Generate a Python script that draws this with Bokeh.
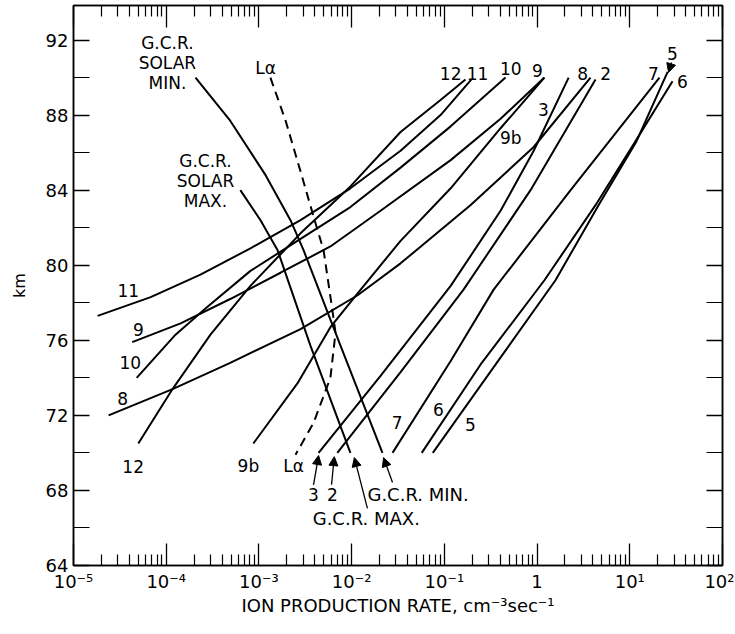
import numpy as np
from bokeh.plotting import figure
from bokeh.models import (Range1d, LogAxis, LinearAxis, FixedTicker, Arrow, NormalHead,
                          ColumnDataSource, CustomJSTickFormatter)
from bokeh.core.properties import value
from bokeh.embed import file_html
from bokeh.resources import INLINE

FONT = "DejaVu Sans"

# ---------------- data (ion production rate cm^-3 s^-1, altitude km) ----------------
c12_x = [5.0e-5, 1.17e-4, 3.0e-4, 8.1e-4, 2.81e-3, 9.7e-3, 3.37e-2, 9.1e-2, 0.169]
c12_y = [70.5, 73.4, 76.3, 78.9, 81.7, 84.2, 87.1, 88.8, 89.9]

c11_x = [1.82e-5, 6.8e-5, 2.34e-4, 8.1e-4, 2.81e-3, 9.7e-3, 3.37e-2, 9.1e-2, 0.196]
c11_y = [77.3, 78.3, 79.5, 80.9, 82.4, 84.1, 86.1, 88.0, 89.9]

c10_x = [4.8e-5, 1.26e-4, 2.65e-4, 8.1e-4, 2.81e-3, 9.7e-3, 3.37e-2, 0.117, 0.457]
c10_y = [74.0, 76.3, 77.7, 79.7, 81.4, 83.1, 85.2, 87.4, 90.0]

c9_x = [4.3e-5, 1.43e-4, 4.9e-4, 1.71e-3, 5.9e-3, 2.05e-2, 0.117, 0.404, 1.20]
c9_y = [75.9, 76.9, 78.2, 79.6, 81.0, 82.9, 85.6, 87.8, 90.0]

c9b_x = [8.7e-4, 2.6e-3, 5.9e-3, 1.16e-2, 3.37e-2, 0.117, 0.404, 1.20]
c9b_y = [70.5, 73.7, 76.7, 78.5, 81.3, 84.1, 87.3, 90.0]

c8_x = [2.39e-5, 1.17e-4, 4.9e-4, 2.81e-3, 1.16e-2, 3.37e-2, 0.191, 0.92, 3.77]
c8_y = [72.0, 73.4, 74.8, 76.6, 78.4, 80.1, 83.2, 86.3, 90.0]

c3_x = [4.4e-3, 2.05e-2, 0.117, 0.404, 0.92, 2.19]
c3_y = [70.0, 74.1, 78.9, 82.9, 86.1, 90.0]

c2_x = [7.0e-3, 3.37e-2, 0.161, 0.85, 4.27]
c2_y = [70.0, 74.3, 78.7, 84.0, 89.9]

c7_x = [2.76e-2, 0.117, 0.340, 2.30, 20.9]
c7_y = [70.0, 74.9, 78.7, 84.0, 90.0]

c6_x = [5.7e-2, 0.245, 1.20, 4.27, 11.5, 28.9]
c6_y = [70.0, 74.7, 79.2, 83.2, 86.6, 89.8]

c5_x = [7.5e-2, 0.356, 1.58, 4.6, 11.8, 25.6]
c5_y = [70.0, 74.7, 79.2, 83.2, 86.6, 90.3]

gcr_min_x = [2.07e-4, 4.9e-4, 1.18e-3, 2.19e-3, 3.03e-3, 7.6e-3, 2.15e-2]
gcr_min_y = [90.0, 87.7, 84.8, 82.4, 80.8, 75.7, 70.0]

gcr_max_x = [6.3e-4, 1.04e-3, 1.59e-3, 3.6e-3, 9.7e-3]
gcr_max_y = [84.0, 82.4, 80.8, 75.7, 70.0]

lya_x = [1.33e-3, 1.94e-3, 2.81e-3, 3.88e-3, 4.98e-3, 6.2e-3, 6.7e-3, 5.9e-3, 3.88e-3, 2.48e-3]
lya_y = [90.0, 87.7, 85.0, 82.6, 80.8, 77.6, 76.4, 74.0, 71.6, 69.9]

solid_curves = [(c12_x, c12_y), (c11_x, c11_y), (c10_x, c10_y), (c9_x, c9_y), (c9b_x, c9b_y),
                (c8_x, c8_y), (c3_x, c3_y), (c2_x, c2_y), (c7_x, c7_y), (c6_x, c6_y),
                (c5_x, c5_y), (gcr_min_x, gcr_min_y), (gcr_max_x, gcr_max_y)]

# curve labels
lab_text = ["11", "9", "10", "8", "12", "9b", "L\u03b1", "3", "2", "7", "6", "5",
            "12", "11", "10", "9", "8", "2", "7", "6", "5", "3", "9b", "L\u03b1"]
lab_x = [3.9e-5, 5.0e-5, 4.1e-5, 3.4e-5, 4.4e-5, 7.7e-4, 2.36e-3, 3.88e-3, 6.2e-3, 3.1e-2, 8.6e-2, 0.191,
         0.117, 0.228, 0.52, 1.01, 3.1, 5.5, 18.0, 37.0, 28.9, 1.17, 0.52, 1.18e-3]
lab_y = [78.65, 76.6, 74.8, 72.9, 69.3, 69.3, 69.3, 67.8, 67.8, 71.6, 72.3, 71.5,
         90.2, 90.2, 90.5, 90.4, 90.2, 90.2, 90.2, 89.8, 91.3, 88.3, 86.8, 90.5]

# block labels
blk_text = ["G.C.R.\nSOLAR\nMIN.", "G.C.R.\nSOLAR\nMAX."]
blk_x = [1.03e-4, 2.65e-4]
blk_y = [90.75, 84.5]

# arrow labels (left aligned)
arr_lab_text = ["G.C.R. MIN.", "G.C.R. MAX."]
arr_lab_x = [1.48e-2, 3.8e-3]
arr_lab_y = [67.8, 66.5]

# arrows: start -> end
arr_x0 = [28.2, 3.88e-3, 6.07e-3, 1.48e-2, 2.76e-2]
arr_y0 = [90.8, 68.3, 68.3, 67.04, 68.42]
arr_x1 = [26.2, 4.4e-3, 6.5e-3, 1.07e-2, 2.21e-2]
arr_y1 = [90.27, 69.86, 69.8, 69.75, 69.75]

x_exps = [-5, -4, -3, -2, -1, 0, 1, 2]
x_tick_labels = ["10\u207b\u2075", "10\u207b\u2074", "10\u207b\u00b3", "10\u207b\u00b2",
                 "10\u207b\u00b9", "1", "10\u00b9", "10\u00b2"]
y_major = [64, 68, 72, 76, 80, 84, 88, 92]
y_minor = [66, 70, 74, 78, 82, 86, 90]

# ---------------- figure ----------------
p = figure(width=734, height=630, x_axis_type="log",
           x_range=Range1d(1e-5, 1e2), y_range=Range1d(64, 93.84),
           output_backend="svg", toolbar_location=None,
           min_border_left=73, min_border_right=12, min_border_top=5, min_border_bottom=65)
p.grid.visible = False
p.outline_line_color = "black"
p.outline_line_width = 1.5
p.background_fill_color = "white"
p.border_fill_color = "white"

x_major = [10.0 ** e for e in x_exps]
x_minor = [m * 10.0 ** e for e in x_exps[:-1] for m in range(2, 10)]
xt = FixedTicker(ticks=x_major, minor_ticks=x_minor)
yt = FixedTicker(ticks=y_major, minor_ticks=y_minor)

xfmt = CustomJSTickFormatter(args=dict(labs=x_tick_labels, exps=x_exps), code="""
const e = Math.round(Math.log10(tick));
const i = exps.indexOf(e);
return i >= 0 ? labs[i] : '';
""")
blank = CustomJSTickFormatter(code="return '';")

def style_axis(ax, tick_in, minor_in):
    ax.major_tick_in = tick_in
    ax.major_tick_out = 0
    ax.minor_tick_in = minor_in
    ax.minor_tick_out = 0
    ax.axis_line_color = "black"
    ax.axis_line_width = 1.5
    ax.major_tick_line_color = "black"
    ax.minor_tick_line_color = "black"
    ax.major_tick_line_width = 1.3
    ax.minor_tick_line_width = 1.2

xa = p.xaxis[0]
xa.ticker = xt
xa.formatter = xfmt
style_axis(xa, 22, 11)
xa.major_label_text_font = FONT
xa.major_label_text_font_size = "18px"
xa.major_label_text_color = "black"
xa.major_label_standoff = 5
xa.axis_label = "ION PRODUCTION RATE, cm\u207b\u00b3sec\u207b\u00b9"
xa.axis_label_text_font = FONT
xa.axis_label_text_font_size = "18px"
xa.axis_label_text_font_style = "normal"
xa.axis_label_text_color = "black"
xa.axis_label_standoff = 0

ya = p.yaxis[0]
ya.ticker = yt
style_axis(ya, 16, 16)
ya.major_label_text_font = FONT
ya.major_label_text_font_size = "18px"
ya.major_label_text_color = "black"
ya.major_label_standoff = 5
ya.axis_label = "km"
ya.axis_label_text_font = FONT
ya.axis_label_text_font_size = "16px"
ya.axis_label_text_font_style = "normal"
ya.axis_label_text_color = "black"
ya.axis_label_standoff = 14

ta = LogAxis(ticker=xt, formatter=blank, major_label_standoff=0)
style_axis(ta, 22, 11)
p.add_layout(ta, "above")

ra = LinearAxis(ticker=yt, formatter=blank, major_label_standoff=0)
style_axis(ra, 16, 16)
p.add_layout(ra, "right")

# curves
for cx, cy in solid_curves:
    p.line(cx, cy, line_color="black", line_width=2)
p.line(lya_x, lya_y, line_color="black", line_width=2, line_dash="9 6")

# labels
p.text(x="x", y="y", text="t", source=ColumnDataSource(dict(x=lab_x, y=lab_y, t=lab_text)),
       text_font=value(FONT), text_font_size="17px", text_color="black",
       text_align="center", text_baseline="middle")
p.text(x="x", y="y", text="t", source=ColumnDataSource(dict(x=blk_x, y=blk_y, t=blk_text)),
       text_font=value(FONT), text_font_size="17px", text_color="black",
       text_align="center", text_baseline="middle", text_line_height=1.0)
p.text(x="x", y="y", text="t", source=ColumnDataSource(dict(x=arr_lab_x, y=arr_lab_y, t=arr_lab_text)),
       text_font=value(FONT), text_font_size="18px", text_color="black",
       text_align="left", text_baseline="middle")

for x0, y0, x1, y1 in zip(arr_x0, arr_y0, arr_x1, arr_y1):
    p.add_layout(Arrow(end=NormalHead(size=9, fill_color="black", line_color="black"),
                       x_start=x0, y_start=y0, x_end=x1, y_end=y1,
                       line_color="black", line_width=1.3))

open("out.html", "w").write(file_html(p, INLINE))
